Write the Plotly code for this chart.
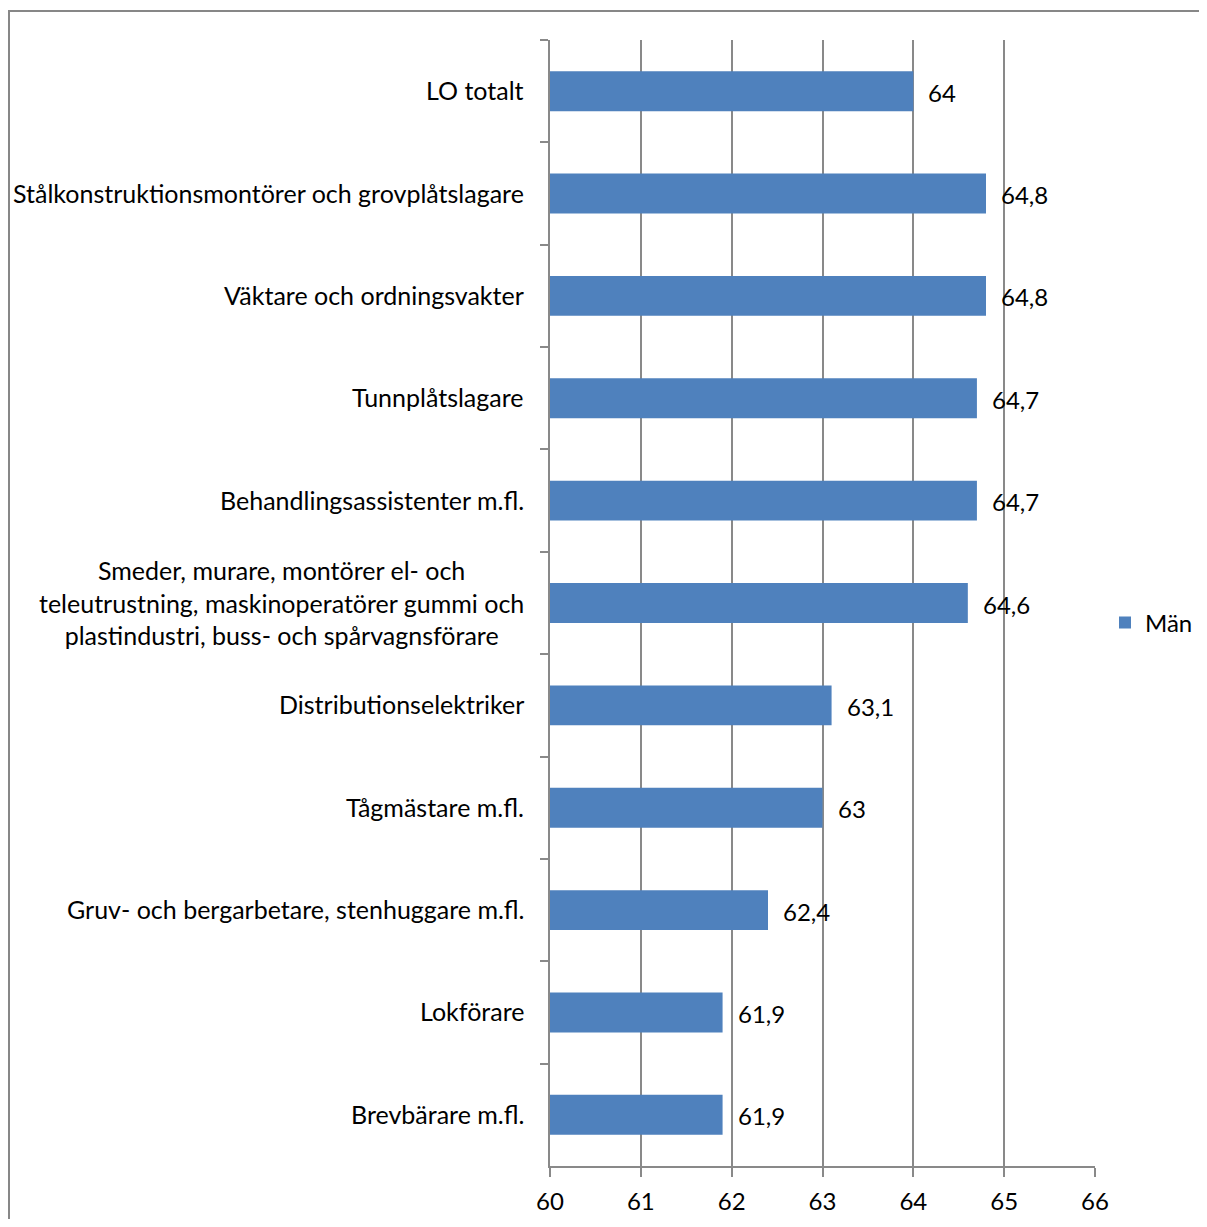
import plotly.graph_objects as go

categories = [
    "LO totalt",
    "Stålkonstruktionsmontörer och grovplåtslagare",
    "Väktare och ordningsvakter",
    "Tunnplåtslagare",
    "Behandlingsassistenter m.fl.",
    "Smeder, murare, montörer el- och<br>teleutrustning, maskinoperatörer gummi och<br>plastindustri, buss- och spårvagnsförare",
    "Distributionselektriker",
    "Tågmästare m.fl.",
    "Gruv- och bergarbetare, stenhuggare m.fl.",
    "Lokförare",
    "Brevbärare m.fl.",
]
values = [64, 64.8, 64.8, 64.7, 64.7, 64.6, 63.1, 63, 62.4, 61.9, 61.9]
x_ticks = [60, 61, 62, 63, 64, 65, 66]
series_name = "Män"

FONT = "Lato, 'Open Sans', sans-serif"
FS = 24
FS_CAT = 25
GRID = "#898989"
BAR = "#4F81BD"

# page has an 8px body margin; work in reference pixel coords and shift
OFF = 8
W, H = 1207 - OFF, 1227 - 2 * OFF
L, R, T, B = 550 - OFF, 1095 - OFF, 40 - OFF, 1166 - OFF
pw, ph = R - L, B - T

def px(xp):
    return (xp - OFF - L) / pw

def py(yp):
    return (B - (yp - OFF)) / ph

fig = go.Figure()
fig.add_trace(go.Bar(
    y=categories, x=values, orientation="h",
    marker=dict(color=BAR, line=dict(width=0)),
    width=0.39, name=series_name, showlegend=True,
))

annotations = []
for c, v in zip(categories, values):
    annotations.append(dict(
        x=v, y=c, xref="x", yref="y", text=f"{v:g}".replace(".", ","),
        showarrow=False, xanchor="left", yanchor="middle", xshift=13, yshift=-1,
        font=dict(family=FONT, size=FS, color="#000000"),
    ))
    annotations.append(dict(
        x=60, y=c, xref="x", yref="y", text=c,
        showarrow=False, xanchor="right", yanchor="middle", align="center",
        xshift=-24, yshift=1, font=dict(family=FONT, size=FS_CAT, color="#000000"),
    ))

fig.update_layout(
    width=W, height=H,
    margin=dict(l=L, r=W - R, t=T, b=H - B, autoexpand=False),
    paper_bgcolor="white", plot_bgcolor="white",
    font=dict(family=FONT, size=FS, color="#000000"),
    xaxis=dict(
        range=[60, 66], tickvals=x_ticks, ticktext=[str(t) for t in x_ticks],
        showgrid=True, gridcolor=GRID, gridwidth=1.5,
        showline=True, linecolor=GRID, linewidth=2,
        ticks="outside", ticklen=9, tickcolor=GRID, tickwidth=2,
        ticklabelstandoff=4,
        zeroline=False, tickfont=dict(family=FONT, size=FS), fixedrange=True,
    ),
    yaxis=dict(
        type="category", autorange="reversed", tickson="boundaries",
        showticklabels=False, showgrid=False,
        showline=True, linecolor=GRID, linewidth=2,
        ticks="outside", ticklen=8, tickcolor=GRID, tickwidth=2,
    ),
    showlegend=True,
    legend=dict(
        x=px(1105), y=py(623), xanchor="left", yanchor="middle",
        font=dict(family=FONT, size=FS), bgcolor="rgba(0,0,0,0)",
        itemwidth=30,
    ),
    annotations=annotations,
    shapes=[dict(
        type="rect", xref="paper", yref="paper",
        x0=px(9), x1=px(1205), y0=py(1260), y1=py(11),
        line=dict(color="#878787", width=2), fillcolor="rgba(0,0,0,0)", layer="below",
    )],
    bargap=0.6,
)

fig.write_html("out.html")
